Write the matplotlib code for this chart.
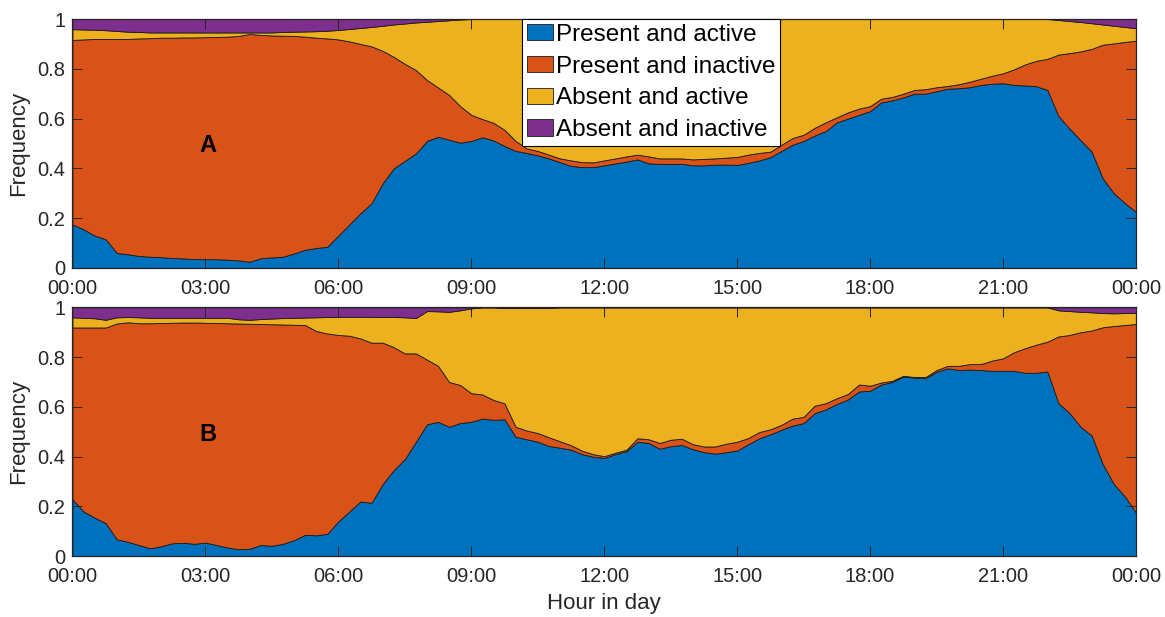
import numpy as np
import matplotlib
matplotlib.use("Agg")
import matplotlib.pyplot as plt

plt.rcParams["font.family"] = ["Liberation Sans", "DejaVu Sans"]

# quarter-hour bins over the day
HOURS = np.arange(0, 24.01, 0.25)

LABELS = ["Present and active", "Present and inactive",
          "Absent and active", "Absent and inactive"]
COLORS = ["#0072BD", "#D95319", "#EDB120", "#7E2F8E"]

TICK_HOURS = [0, 3, 6, 9, 12, 15, 18, 21, 24]
TICK_LABELS = ["00:00", "03:00", "06:00", "09:00", "12:00",
               "15:00", "18:00", "21:00", "00:00"]

# --- panel A ---
A_present_active = [
    .175, .155, .130, .115, .060, .055, .048, .045, .043, .040, .038, .036,
    .035, .035, .033, .030, .025, .039, .042, .045, .058, .073, .080, .085,
    .130, .175, .220, .260, .340, .400, .430, .460, .510, .527, .515, .503,
    .510, .525, .512, .490, .470, .462, .452, .440, .425, .410, .405, .405,
    .412, .420, .427, .436, .420, .418, .418, .418, .412, .412, .415, .415,
    .414, .422, .432, .445, .470, .495, .510, .532, .550, .585, .600, .615,
    .630, .665, .673, .685, .700, .700, .710, .720, .722, .726, .735, .740,
    .742, .735, .733, .730, .715, .610, .560, .513, .467, .360, .300, .260,
    .225]
A_present_inactive = [
    .741, .763, .790, .805, .860, .865, .874, .878, .882, .885, .888, .890,
    .892, .893, .896, .902, .915, .897, .892, .888, .874, .856, .845, .837,
    .788, .735, .680, .630, .532, .448, .390, .335, .245, .198, .180, .147,
    .105, .073, .071, .065, .040, .018, .018, .015, .015, .022, .020, .019,
    .020, .020, .021, .019, .028, .022, .022, .022, .024, .026, .025, .028,
    .032, .033, .030, .022, .025, .027, .025, .031, .035, .020, .025, .025,
    .020, .015, .014, .015, .015, .018, .016, .011, .016, .022, .025, .032,
    .040, .063, .085, .102, .125, .247, .303, .357, .413, .537, .602, .648,
    .688]
A_absent_active = [
    .043, .040, .037, .035, .032, .029, .026, .023, .021, .021, .020, .020,
    .019, .018, .017, .014, .006, .010, .012, .015, .017, .021, .026, .031,
    .038, .050, .064, .078, .101, .130, .162, .191, .234, .267, .300, .348,
    .385, .402, .417, .445, .490, .520, .530, .545, .560, .568, .575, .576,
    .568, .560, .552, .545, .552, .560, .560, .560, .564, .562, .560, .557,
    .554, .545, .538, .533, .505, .478, .465, .437, .415, .395, .375, .360,
    .350, .320, .313, .300, .285, .282, .274, .269, .262, .252, .240, .228,
    .218, .202, .182, .168, .160, .139, .129, .118, .103, .081, .071, .060,
    .050]
A_absent_inactive = [
    .041, .042, .043, .045, .048, .051, .052, .054, .054, .054, .054, .054,
    .054, .054, .054, .054, .054, .054, .054, .052, .051, .050, .049, .047,
    .044, .040, .036, .032, .027, .022, .018, .014, .011, .008, .005, .002,
    0, 0, 0, 0, 0, 0, 0, 0, 0, 0, 0, 0,
    0, 0, 0, 0, 0, 0, 0, 0, 0, 0, 0, 0,
    0, 0, 0, 0, 0, 0, 0, 0, 0, 0, 0, 0,
    0, 0, 0, 0, 0, 0, 0, 0, 0, 0, 0, 0,
    0, 0, 0, 0, 0, .004, .008, .012, .017, .022, .027, .032,
    .037]

# --- panel B ---
B_present_active = [
    .229, .180, .155, .133, .068, .058, .045, .032, .040, .052, .054, .050,
    .055, .045, .035, .028, .030, .045, .042, .050, .065, .086, .084, .090,
    .140, .180, .220, .215, .290, .346, .390, .460, .530, .540, .520, .535,
    .540, .553, .548, .550, .480, .470, .460, .443, .436, .428, .410, .400,
    .395, .410, .422, .460, .455, .432, .442, .447, .430, .418, .412, .418,
    .425, .450, .474, .490, .508, .525, .535, .575, .590, .612, .630, .662,
    .665, .690, .700, .722, .718, .715, .741, .755, .748, .750, .748, .745,
    .745, .745, .737, .737, .742, .615, .575, .520, .485, .370, .290, .240,
    .175]
B_present_inactive = [
    .690, .739, .764, .786, .867, .882, .891, .904, .897, .886, .885, .889,
    .883, .892, .901, .907, .904, .888, .890, .881, .865, .843, .821, .805,
    .749, .706, .655, .643, .568, .494, .425, .355, .260, .225, .180, .153,
    .115, .097, .080, .064, .040, .035, .035, .035, .026, .018, .014, .010,
    .007, .006, .006, .014, .015, .023, .026, .025, .020, .023, .029, .034,
    .035, .025, .025, .020, .020, .028, .025, .030, .025, .023, .022, .028,
    .020, .008, .005, .003, .002, .005, .007, .010, .017, .022, .024, .041,
    .050, .075, .099, .113, .120, .268, .314, .380, .422, .550, .635, .689,
    .758]
B_absent_active = [
    .041, .039, .037, .031, .025, .021, .024, .022, .021, .020, .019, .019,
    .020, .021, .022, .017, .016, .020, .023, .026, .028, .030, .055, .066,
    .073, .076, .087, .104, .103, .121, .145, .142, .195, .219, .282, .300,
    .341, .350, .372, .383, .477, .492, .502, .520, .538, .554, .576, .590,
    .598, .584, .572, .526, .530, .545, .532, .528, .550, .559, .559, .548,
    .540, .525, .501, .490, .472, .447, .440, .395, .385, .365, .348, .310,
    .315, .302, .295, .275, .280, .280, .252, .235, .235, .228, .228, .214,
    .205, .180, .164, .150, .138, .105, .096, .082, .073, .057, .051, .048,
    .045]
B_absent_inactive = [
    .040, .042, .044, .050, .040, .039, .040, .042, .042, .042, .042, .042,
    .042, .042, .042, .048, .050, .047, .045, .043, .042, .041, .040, .039,
    .038, .038, .038, .038, .039, .039, .040, .043, .015, .016, .018, .012,
    .004, 0, 0, .003, .003, .003, .003, .002, 0, 0, 0, 0,
    0, 0, 0, 0, 0, 0, 0, 0, 0, 0, 0, 0,
    0, 0, 0, 0, 0, 0, 0, 0, 0, 0, 0, 0,
    0, 0, 0, 0, 0, 0, 0, 0, 0, 0, 0, 0,
    0, 0, 0, 0, 0, .012, .015, .018, .020, .023, .024, .023,
    .022]

PANELS = [
    ("A", [A_present_active, A_present_inactive, A_absent_active, A_absent_inactive]),
    ("B", [B_present_active, B_present_inactive, B_absent_active, B_absent_inactive]),
]

DARK = "#262626"

fig = plt.figure(figsize=(11.65, 6.17), dpi=100)
ax_a = fig.add_axes([0.0622, 0.5658, 0.9129, 0.4034])
ax_b = fig.add_axes([0.0622, 0.0985, 0.9129, 0.4034])

for ax, (tag, series) in zip([ax_a, ax_b], PANELS):
    ax.stackplot(HOURS, *series, colors=COLORS, labels=LABELS,
                 edgecolor="#1a1a1a", linewidth=0.6)
    ax.set_xlim(0, 24)
    ax.set_ylim(0, 1)
    ax.set_xticks(TICK_HOURS)
    ax.set_xticklabels(TICK_LABELS)
    ax.set_yticks([0, 0.2, 0.4, 0.6, 0.8, 1])
    ax.set_yticklabels(["0", "0.2", "0.4", "0.6", "0.8", "1"])
    ax.tick_params(direction="in", length=7.5, width=0.7, top=True, right=True,
                   labelsize=14.5, colors=DARK, pad=5)
    ax.tick_params(axis="x", pad=8)
    ax.set_ylabel("Frequency", fontsize=16, color=DARK, labelpad=6)
    for sp in ax.spines.values():
        sp.set_color(DARK)
        sp.set_linewidth(0.9)
        sp.set_zorder(5)
    ax.text(3.05, 0.49, tag, fontsize=17, fontweight="bold",
            ha="center", va="center", color="black")

ax_b.set_xlabel("Hour in day", fontsize=16, color=DARK, labelpad=5)

leg = ax_a.legend(loc="upper left", bbox_to_anchor=(0.423, 1.0),
                  fontsize=17.5, frameon=True, fancybox=False, framealpha=1,
                  borderaxespad=0, borderpad=0.2, handlelength=1.05,
                  handleheight=0.65, handletextpad=0.12, labelspacing=0.4)
leg.get_frame().set_edgecolor("black")
leg.get_frame().set_linewidth(0.8)
leg.set_zorder(10)

fig.savefig("out.png", dpi=100)
